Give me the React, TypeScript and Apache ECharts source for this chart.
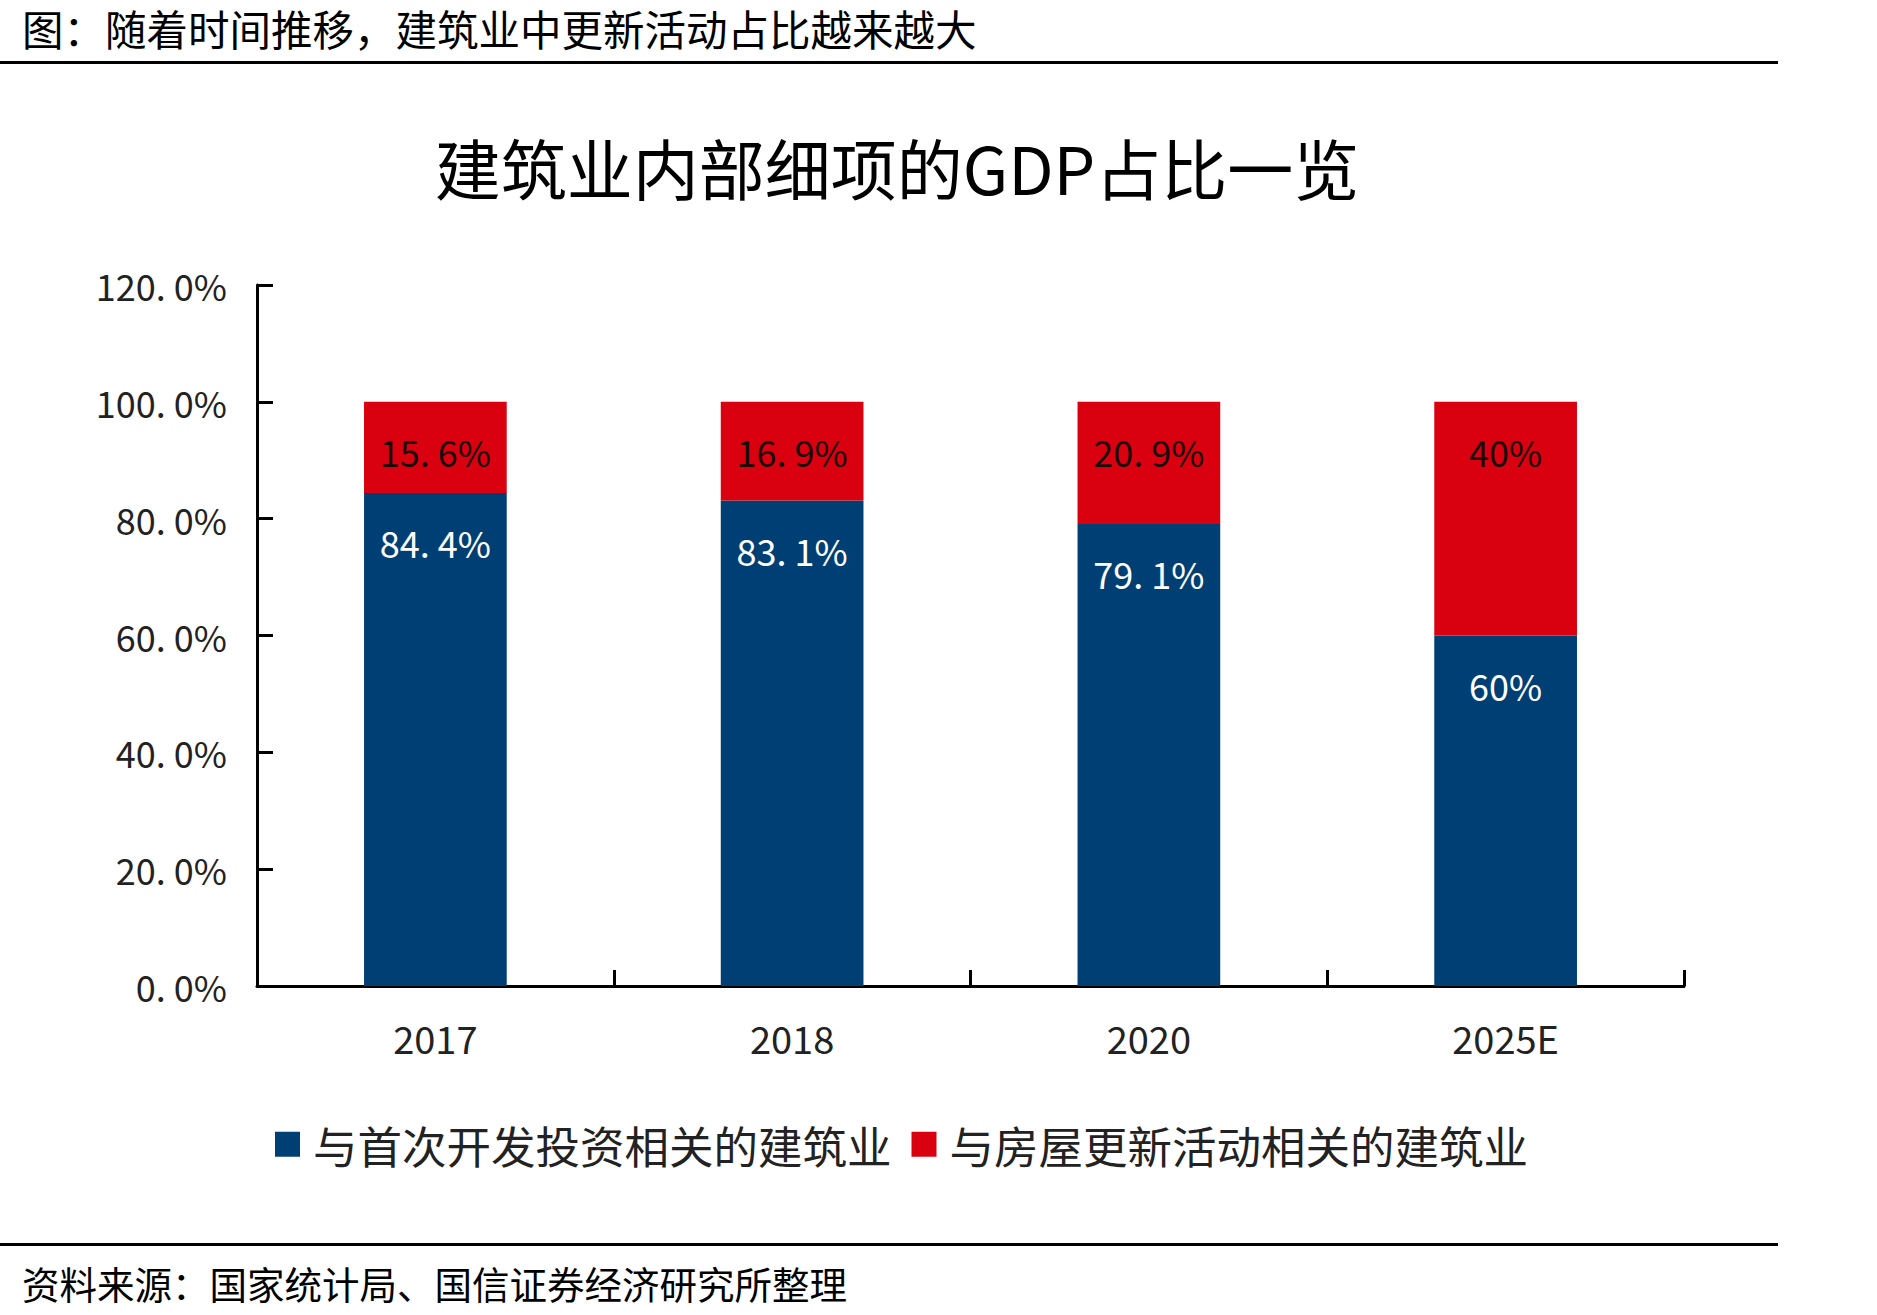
import React, { useEffect, useRef } from "react";
import * as echarts from "echarts";

// Categories and shares (%) of construction GDP
const categories = ["2017", "2018", "2020", "2025E"];
const newDevShare = [84.4, 83.1, 79.1, 60];
const renewalShare = [15.6, 16.9, 20.9, 40];
const yTicks = [0, 20, 40, 60, 80, 100, 120];

const seriesNames = ["与首次开发投资相关的建筑业", "与房屋更新活动相关的建筑业"];
const pageTitle = "图：随着时间推移，建筑业中更新活动占比越来越大";
const chartTitle = "建筑业内部细项的GDP占比一览";
const sourceNote = "资料来源：国家统计局、国信证券经济研究所整理";

const FONT = "'Noto Sans CJK SC', 'Noto Sans', sans-serif";
const BLUE = "#003f73";
const RED = "#d9000f";

// "84.4" -> "84. 4%", "60" -> "60%"
const pct = (v: number, decimals: number) => {
  const s = v.toFixed(decimals);
  return s.replace(".", ". ") + "%";
};
const labelPct = (v: number) => (Number.isInteger(v) ? `${v}%` : pct(v, 1));

export default function App() {
  const ref = useRef<HTMLDivElement>(null);

  useEffect(() => {
    if (!ref.current) return;
    const chart = echarts.init(ref.current, undefined, { renderer: "svg" });
    chart.setOption({
      animation: false,
      backgroundColor: "#ffffff",
      textStyle: { fontFamily: FONT },
      graphic: [
        {
          type: "text",
          x: 22,
          y: 28,
          style: {
            text: pageTitle,
            font: `41.5px ${FONT}`,
            lineHeight: 42,
            fill: "#000",
            verticalAlign: "middle",
          },
        },
        { type: "rect", shape: { x: 0, y: 61, width: 1778, height: 3 }, style: { fill: "#000" } },
        {
          type: "text",
          x: 897,
          y: 166,
          style: {
            text: chartTitle,
            font: `66px ${FONT}`,
            fill: "#000",
            align: "center",
            verticalAlign: "middle",
          },
        },
        { type: "rect", shape: { x: 0, y: 1243, width: 1778, height: 3 }, style: { fill: "#000" } },
        {
          type: "text",
          x: 22,
          y: 1282,
          style: {
            text: sourceNote,
            font: `37.5px ${FONT}`,
            fill: "#000",
            verticalAlign: "middle",
          },
        },
      ],
      legend: {
        left: 270,
        top: 1117,
        itemWidth: 25,
        itemHeight: 25,
        itemGap: 20,
        icon: "rect",
        textStyle: { fontSize: 44.5, color: "#222", fontFamily: FONT, padding: [0, 0, 0, 8] },
        data: seriesNames,
      },
      grid: { left: 257, right: 193, top: 285, bottom: 329, containLabel: false },
      xAxis: {
        type: "category",
        data: categories,
        axisLine: { lineStyle: { color: "#000", width: 3 } },
        axisTick: { show: true, inside: true, length: 16, lineStyle: { color: "#000", width: 3 } },
        axisLabel: { fontSize: 38, color: "#222", margin: 32, lineHeight: 38 },
      },
      yAxis: {
        type: "value",
        min: 0,
        max: 120,
        interval: 20,
        splitLine: { show: false },
        axisLine: { show: true, lineStyle: { color: "#000", width: 3 } },
        axisTick: { show: true, inside: true, length: 16, lineStyle: { color: "#000", width: 3 } },
        axisLabel: {
          fontSize: 36,
          color: "#222",
          margin: 30,
          padding: [0, 0, 14, 0],
          formatter: (v: number) => (yTicks.includes(v) ? pct(v, 1) : ""),
        },
      },
      series: [
        {
          name: seriesNames[0],
          type: "bar",
          stack: "total",
          barWidth: "40%",
          data: newDevShare,
          itemStyle: { color: BLUE },
          label: {
            show: true,
            position: "insideTop",
            distance: 31,
            fontSize: 36,
            color: "#fff",
            formatter: (p: any) => labelPct(p.value),
          },
        },
        {
          name: seriesNames[1],
          type: "bar",
          stack: "total",
          barWidth: "40%",
          data: renewalShare,
          itemStyle: { color: RED },
          label: {
            show: true,
            position: "insideTop",
            distance: 31,
            fontSize: 36,
            color: "#1a0a0a",
            formatter: (p: any) => labelPct(p.value),
          },
        },
      ],
    });
    return () => chart.dispose();
  }, []);

  return (
    <div
      ref={ref}
      style={{ position: "absolute", left: 0, top: 0, width: 1877, height: 1315 }}
    />
  );
}
